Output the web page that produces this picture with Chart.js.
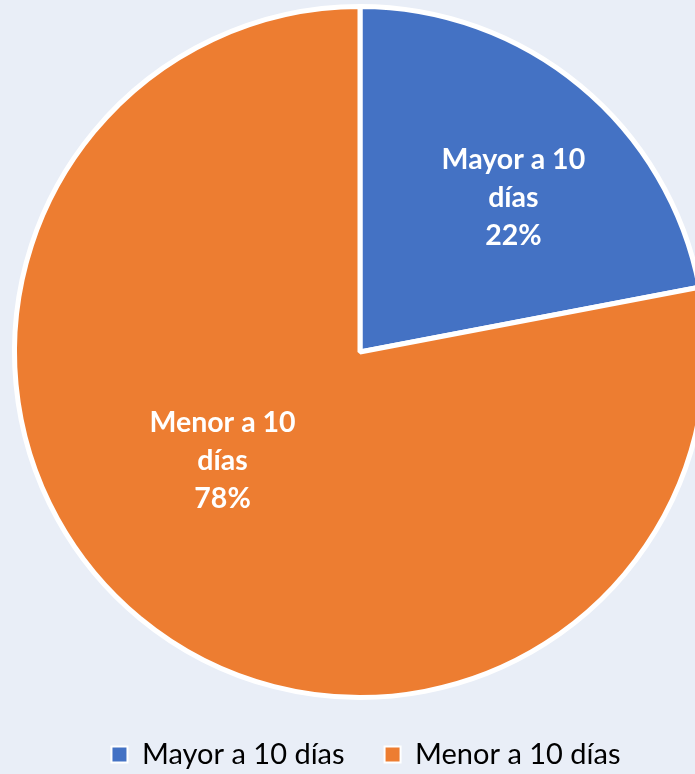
<!DOCTYPE html>
<html><head><meta charset="utf-8">
<script src="https://cdn.jsdelivr.net/npm/chart.js@4"></script>
<style>
html,body{margin:0;padding:0;background:#E9EEF7;overflow:hidden;}
#wrap{width:695px;height:774px;overflow:hidden;position:relative;}
canvas{display:block;}
</style></head><body>
<div id="wrap"><canvas id="c" width="720" height="774" style="width:720px;height:774px"></canvas></div>
<script>
const categories = ['Mayor a 10 días', 'Menor a 10 días'];
const values = [22, 78];
const percentLabels = ['22%', '78%'];
const labelLines = [['Mayor a 10', 'días'], ['Menor a 10', 'días']];
const colors = ['#4472C4', '#ED7D31'];
// label placement relative to each slice: angle shift (deg) from mid-angle, radial fraction
const labelPlacement = [{shift: 5.2, frac: 0.63}, {shift: 12.1, frac: 0.507}];

const sliceLabels = {
  id: 'sliceLabels',
  afterDatasetsDraw(chart) {
    const ctx = chart.ctx;
    const meta = chart.getDatasetMeta(0);
    ctx.save();
    ctx.fillStyle = '#FFFFFF';
    ctx.font = 'bold 28.5px Lato';
    ctx.textAlign = 'center';
    ctx.textBaseline = 'middle';
    meta.data.forEach((arc, i) => {
      const p = arc.getProps(['x', 'y', 'startAngle', 'endAngle', 'outerRadius'], true);
      const a = (p.startAngle + p.endAngle) / 2 + labelPlacement[i].shift * Math.PI / 180;
      const r = p.outerRadius * labelPlacement[i].frac;
      const cx = p.x + Math.cos(a) * r;
      const cy = p.y + Math.sin(a) * r;
      const lines = labelLines[i].concat([percentLabels[i]]);
      const lh = 38;
      lines.forEach((t, k) => {
        ctx.fillText(t, cx, cy + (k - (lines.length - 1) / 2) * lh);
      });
    });
    ctx.restore();
  }
};

const legendTweak = {
  id: 'legendTweak',
  beforeInit(chart) {
    const fit = chart.legend.fit;
    chart.legend.fit = function () {
      fit.call(this);
      this.height = 74;
    };
  },
  afterLayout(chart) {
    chart.legend.left += 6;
    chart.legend.right += 6;
  }
};

new Chart(document.getElementById('c'), {
  type: 'pie',
  data: {
    labels: categories,
    datasets: [{
      data: values,
      backgroundColor: colors,
      borderColor: '#FFFFFF',
      borderWidth: 5
    }]
  },
  options: {
    responsive: false,
    devicePixelRatio: 1,
    animation: false,
    layout: {padding: {top: 4, bottom: 0, left: 0, right: 0}},
    plugins: {
      tooltip: {enabled: false},
      legend: {
        position: 'bottom',
        labels: {
          color: '#000000',
          font: {family: 'Lato', size: 29},
          boxWidth: 16,
          boxHeight: 16,
          padding: 40,
          generateLabels(chart) {
            const items = Chart.overrides.pie.plugins.legend.labels.generateLabels(chart);
            items.forEach(it => { it.lineWidth = 2; it.strokeStyle = '#FFFFFF'; });
            return items;
          }
        }
      }
    }
  },
  plugins: [sliceLabels, legendTweak]
});
</script>
</body></html>
